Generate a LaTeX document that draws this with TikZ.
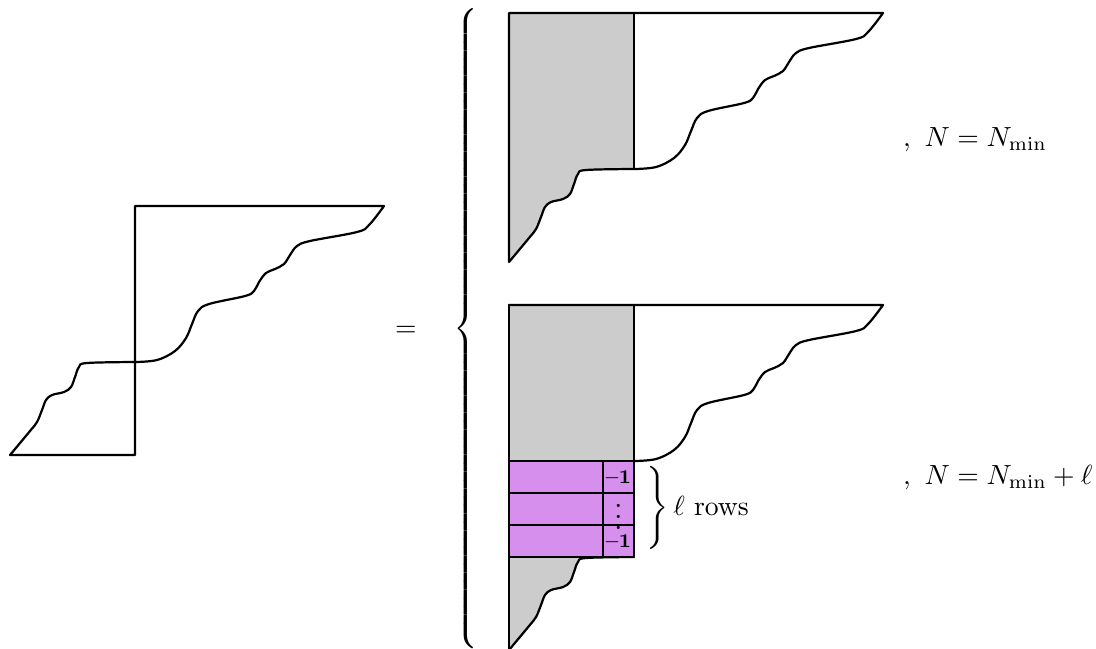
\documentclass[tikz,border=0pt]{standalone}
\usepackage{amsmath}
\definecolor{greyfill}{RGB}{204,204,204}
\definecolor{rowfill}{RGB}{214,143,237}
\tikzset{
  outline/.style={line width=0.8pt, line join=round, line cap=round},
  lbl/.style={inner sep=0pt, outer sep=0pt},
  cell/.style={inner sep=0pt, font=\fontsize{7}{8}\selectfont\bfseries},
}
% wavy boundary, measured from the point where it meets the vertical edge
\newcommand{\uppercurve}{-- plot[smooth,tension=0.6] coordinates {(249,-156) (234,-137) (222,-130) (175,-121) (162,-116) (155,-107) (149,-98) (140,-93) (131,-89) (124,-80) (119,-71) (110,-66) (74,-58) (63,-51) (57,-38) (51,-24) (40,-11) (22,-2) (0,0)}}
\newcommand{\lowercurve}{-- plot[smooth,tension=0.6] coordinates {(0,0) (-48,1) (-56,5) (-60,15) (-64,25) (-71,30) (-83,33) (-89,38) (-93,48) (-98,60) (-105,69) (-125,93)}}
\begin{document}
\begin{tikzpicture}[x=0.0127cm, y=-0.0127cm]
\useasboundingbox (0,0) rectangle (1096,648);

% left-hand shape
\begin{scope}[shift={(135,362)}]
  \draw[outline] (0,93) -- (0,-156) -- (249,-156) \uppercurve \lowercurve -- cycle;
\end{scope}

\node[lbl] (eq) at (406,331) {$=$};
\node[lbl, yscale=1.014, transform shape] (bigbrace) at (467,332.5) {$\left\{\vrule height 114pt depth 114pt width 0pt\right.$};

% upper case: N = N_min
\begin{scope}[shift={(634,169)}]
  \fill[greyfill] (-125,-156) -- (0,-156) -- (0,0) \lowercurve -- cycle;
  \draw[outline] (-125,93) -- (-125,-156) -- (249,-156) \uppercurve \lowercurve;
  \draw[outline] (0,-156) -- (0,0);
\end{scope}
\node[lbl, anchor=base west] (caseA) at (903,146) {$,\ N = N_{\min}$};

% lower case: N = N_min + l
\begin{scope}[shift={(634,461)}]
  \fill[greyfill] (-125,-156) rectangle (0,0);
  \draw[outline] (-125,-156) -- (249,-156) \uppercurve;
  \draw[outline] (0,-156) -- (0,0);
\end{scope}
\begin{scope}[shift={(634,557)}]
  \fill[greyfill] (0,0) \lowercurve -- (-125,0) -- cycle;
  \draw[outline] (0,0) \lowercurve;
\end{scope}
\foreach \k in {0,1,2}{
  \draw[outline, fill=rowfill] (509,461+32*\k) rectangle (634,493+32*\k);
  \draw[outline] (603,461+32*\k) -- (603,493+32*\k);
}
\draw[outline] (509,305) -- (509,650);
\node[cell] (m1) at (618.5,477) {--1};
\node[cell] (dots) at (618.5,509) {$\vdots$};
\node[cell] (m2) at (618.5,541) {--1};
\node[lbl, anchor=west] (rows) at (643,509) {$\left.\vrule height 13pt depth 13pt width 0pt\right\}\ell$ rows};
\node[lbl, anchor=base west] (caseB) at (903,484) {$,\ N = N_{\min} + \ell$};
\end{tikzpicture}
\end{document}
